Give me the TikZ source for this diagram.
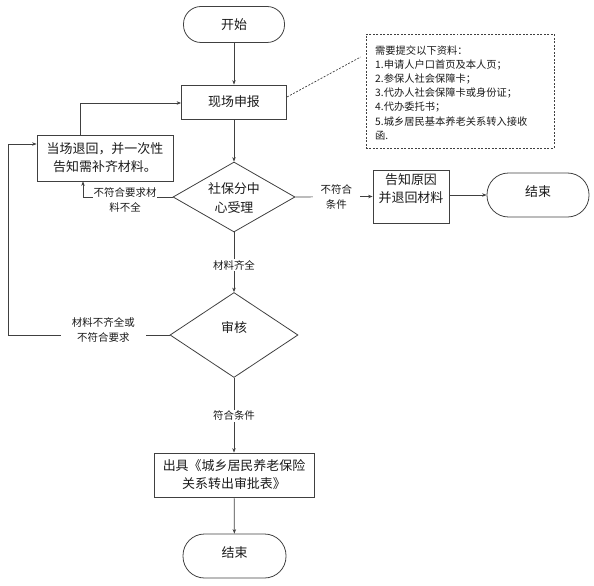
\documentclass[tikz,border=0pt]{standalone}
\usepackage{fontspec}
\setmainfont{Noto Sans CJK SC}
\usetikzlibrary{shapes.geometric,arrows.meta,calc}
\definecolor{ln}{HTML}{404040}
\definecolor{tx}{HTML}{1A1A1A}
\begin{document}
\begin{tikzpicture}[x=1bp,y=-1bp,
  line/.style={draw=ln, line width=0.7pt},
  arr/.style={line, -{Stealth[length=4.5pt,width=3.5pt]}},
  box/.style={draw=ln, line width=0.8pt, inner sep=0pt, align=center, text=tx, font=\fontsize{13}{18}\selectfont},
  term/.style={box},
  dia/.style={draw=ln, line width=0.8pt, diamond, inner sep=0pt},
  maintext/.style={inner sep=0pt, align=center, text=tx, font=\fontsize{13}{18}\selectfont},
  lbl/.style={fill=white, inner ysep=1pt, align=center, text=tx, font=\fontsize{10.5}{15}\selectfont},
]
\useasboundingbox (0,0) rectangle (594,586);

% nodes
\node[term, minimum width=101bp, minimum height=36bp, rounded corners=17.5bp] (start) at (234,24.5) {开始};
\node[box, minimum width=105bp, minimum height=34bp] (xc) at (234,102) {现场申报};
\node[box, minimum width=136bp, minimum height=46bp] (thb) at (105,158) {当场退回，并一次性\\告知需补齐材料。};
\node[dia, minimum width=122bp, minimum height=70bp] (d1) at (234,197) {};
\node[maintext, font=\fontsize{13}{19}\selectfont] (d1t) at (234,198) {社保分中\\心受理};
\node[box, minimum width=76bp, minimum height=53bp] (gz) at (411,196.5) {};
\node[maintext] (gzt) at (411,189) {告知原因\\并退回材料};
\node[term, minimum width=102bp, minimum height=44bp, rounded corners=21.5bp] (end1) at (538,195) {};
\node[maintext] (end1t) at (538,191.5) {结束};
\node[dia, minimum width=128bp, minimum height=85bp] (d2) at (234,335) {};
\node[maintext] (d2t) at (234,328) {审核};
\node[box, minimum width=160bp, minimum height=44bp] (out) at (234,475) {出具《城乡居民养老保险\\关系转出审批表》};
\node[term, minimum width=103bp, minimum height=44bp, rounded corners=21.5bp] (end2) at (234.5,556) {};
\node[maintext] (end2t) at (234.5,552.5) {结束};

% note
\node[draw=ln, line width=0.7pt, dash pattern=on 2pt off 1.5pt, minimum width=188bp, minimum height=114bp, inner sep=0pt] (note) at (460,91) {};
\node[anchor=north west, inner sep=0pt, align=left, text=tx, font=\fontsize{10.3}{14.2}\selectfont] (notet) at (375,45.5) {需要提交以下资料：\\1.申请人户口首页及本人页；\\2.参保人社会保障卡；\\3.代办人社会保障卡或身份证；\\4.代办委托书；\\5.城乡居民基本养老关系转入接收\\函.};
\draw[line, dash pattern=on 2pt off 1.5pt] ($(xc.east)+(0,-5)$) -- ($(note.west)+(-5,-34)$);

% connectors
\draw[arr] (start) -- (xc);
\draw[arr] (xc) -- (d1);
\draw[arr] ($(thb.north west)!0.32!(thb.north east)$) |- ($(xc.west)+(0,1)$);
\coordinate (c1) at (83,197);
\draw[arr] (d1.west) -- node[lbl, pos=0.53, inner xsep=1pt, yshift=-3bp]{不符合要求材\\料不全} (c1) -- (c1 |- thb.south);
\draw[arr] (d1.east) -- node[lbl, pos=0.53, inner xsep=8pt]{不符合\\条件} (gz.west);
\draw[arr] (gz.east |- end1.west) -- (end1.west);
\draw[arr] (d1.south) -- node[lbl, pos=0.55, inner xsep=2pt]{材料齐全} (d2.north);
\coordinate (c2) at (8,335);
\draw[arr] (d2.west) -- node[lbl, pos=0.41, inner xsep=11pt, yshift=5bp]{材料不齐全或\\不符合要求} (c2) |- ($(thb.west)+(0,-14)$);
\draw[arr] (d2.south) -- node[lbl, pos=0.51, inner xsep=2pt]{符合条件} (out.north);
\draw[arr] (out) -- (end2);
\end{tikzpicture}
\end{document}
